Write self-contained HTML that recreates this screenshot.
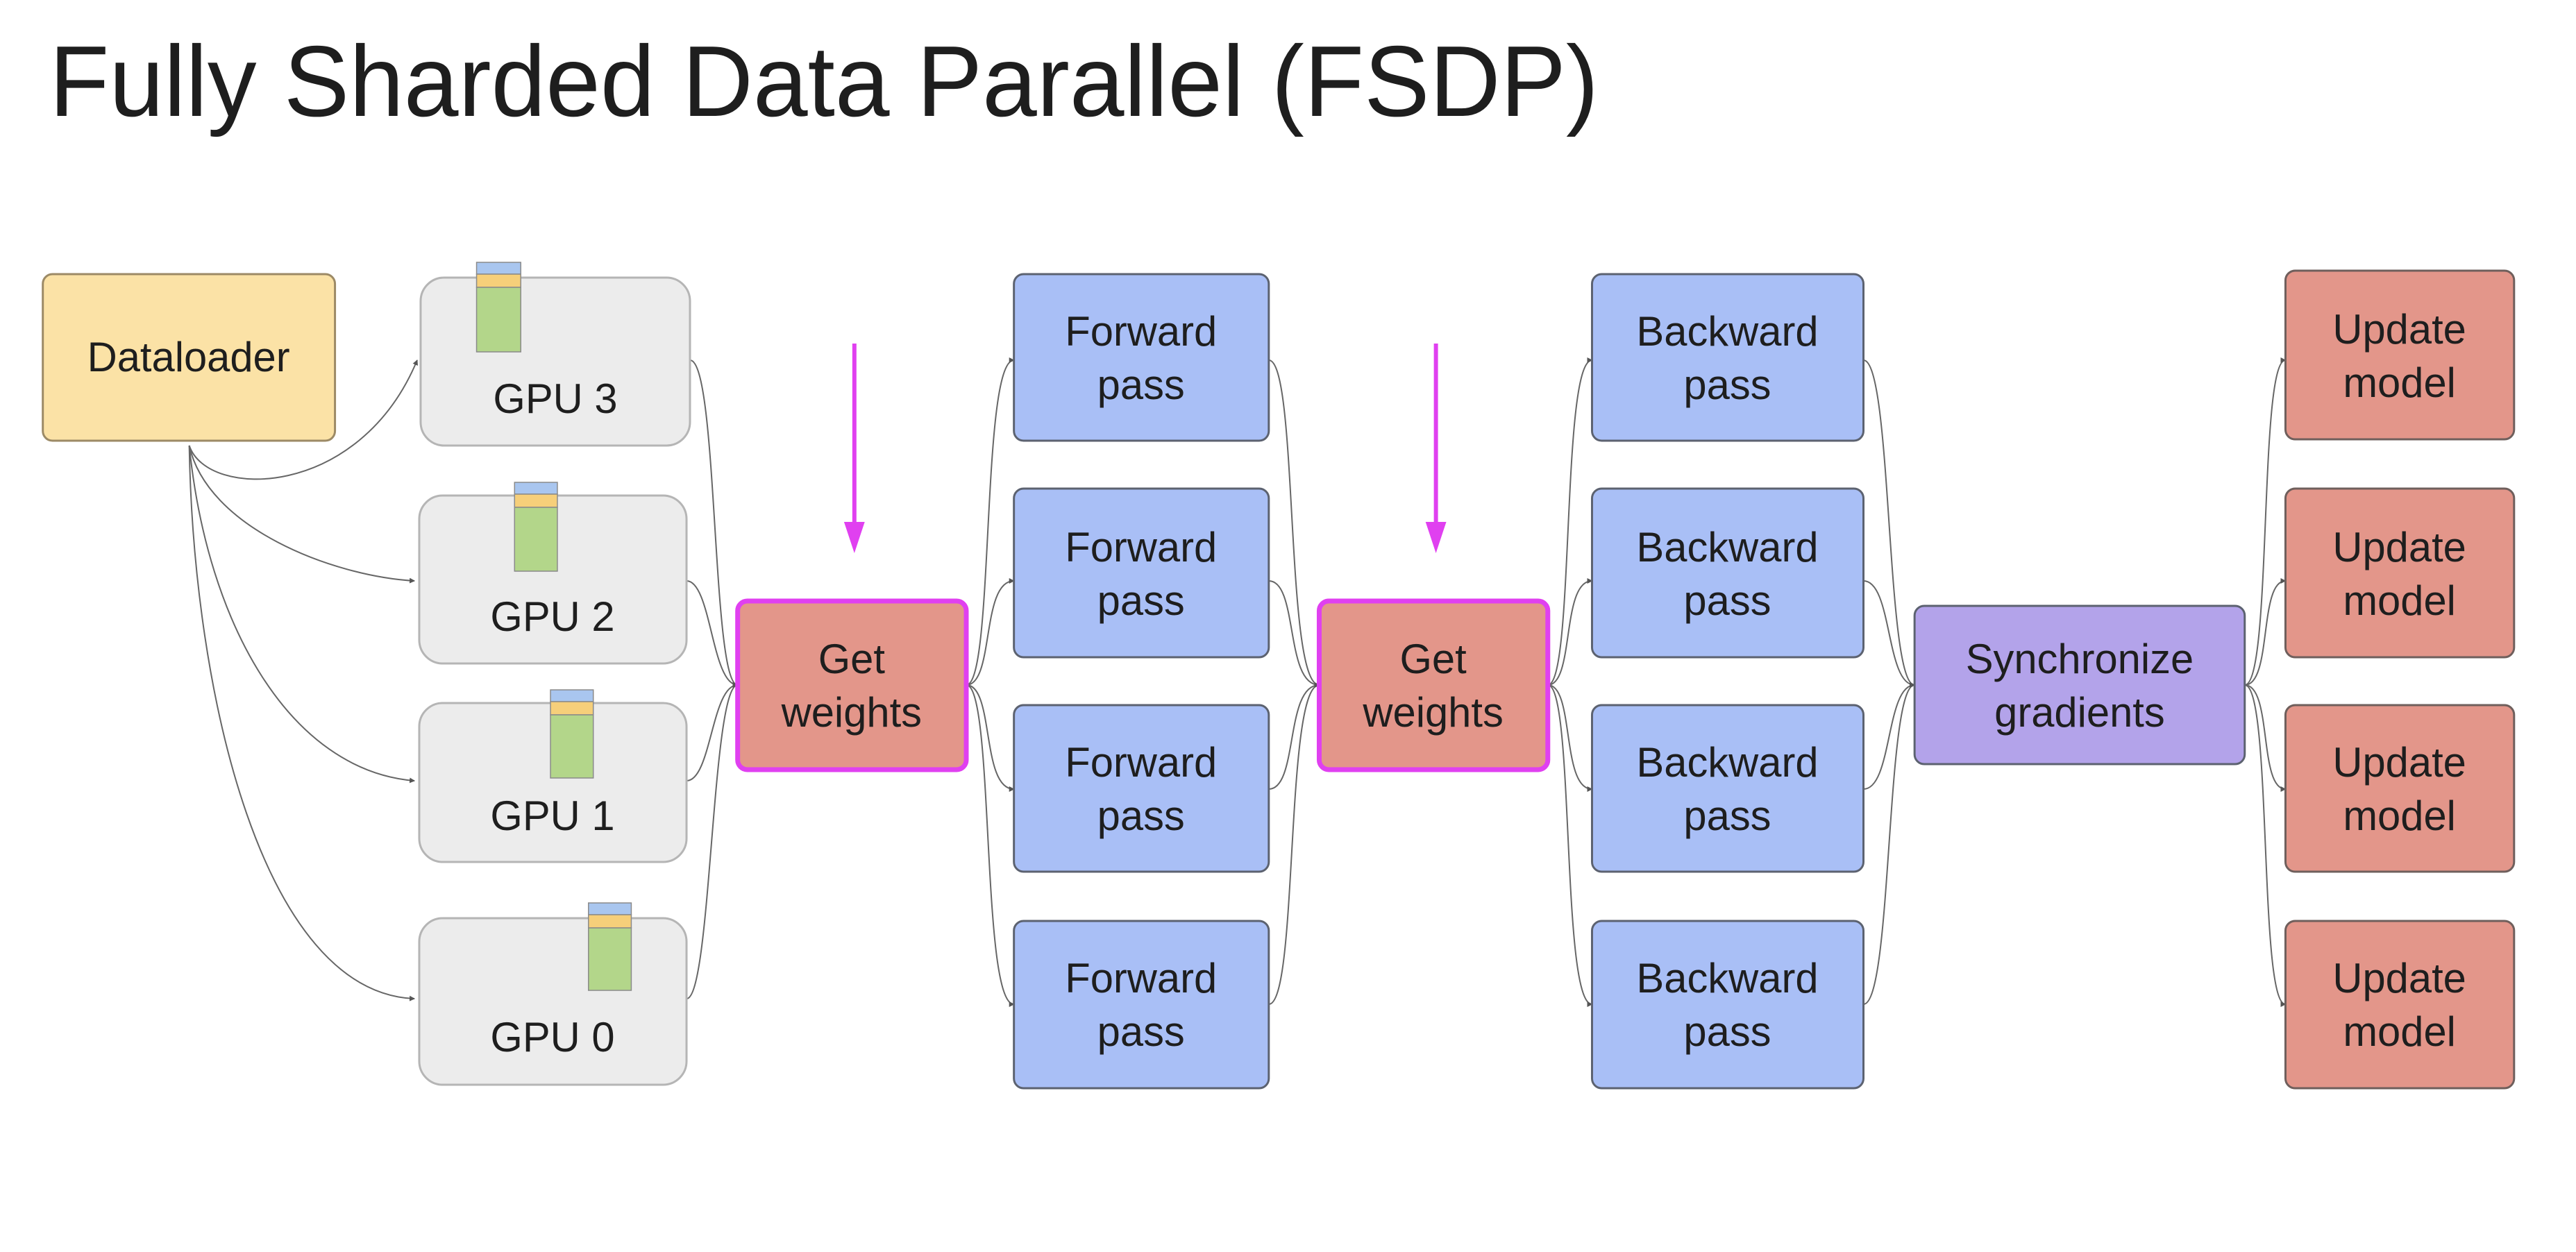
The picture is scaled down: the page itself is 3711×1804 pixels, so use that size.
<!DOCTYPE html>
<html><head><meta charset="utf-8"><style>
html,body{margin:0;padding:0;background:#fff;}
svg{display:block;}
text{font-family:"Liberation Sans",sans-serif;fill:#1e1e1e;}
</style></head><body>
<svg width="3711" height="1804" viewBox="0 0 3711 1804" xmlns="http://www.w3.org/2000/svg">
<defs>
<marker id="a" markerWidth="8" markerHeight="8" refX="7" refY="4" orient="auto" markerUnits="userSpaceOnUse"><path d="M0,0 L8,4 L0,8 z" fill="#555"/></marker>
</defs>
<text x="71" y="167" font-size="145" textLength="2232" lengthAdjust="spacingAndGlyphs">Fully Sharded Data Parallel (FSDP)</text>
<g transform="scale(0.995 1)">
<g fill="none" stroke="#666" stroke-width="2" marker-end="url(#a)">
<path d="M274 642 C300 720 520 720 604 519"/>
<path d="M274 642 C300 760 480 830 600 837"/>
<path d="M274 642 C300 900 420 1110 600 1125"/>
<path d="M274 642 C280 1000 380 1430 600 1439"/>
<path d="M999 519 C1040 519 1030 987 1068 987"/>
<path d="M994 837 C1030 837 1030 987 1068 987"/>
<path d="M994 1125 C1030 1125 1030 987 1068 987"/>
<path d="M994 1439 C1030 1439 1030 987 1068 987"/>
<path d="M1399 987 C1440 987 1420 519 1468 519"/>
<path d="M1399 987 C1440 987 1420 837 1468 837"/>
<path d="M1399 987 C1440 987 1420 1137 1468 1137"/>
<path d="M1399 987 C1440 987 1420 1447 1468 1447"/>
<path d="M1837 519 C1880 519 1860 987 1910 987"/>
<path d="M1837 837 C1880 837 1860 987 1910 987"/>
<path d="M1837 1137 C1880 1137 1860 987 1910 987"/>
<path d="M1837 1447 C1880 1447 1860 987 1910 987"/>
<path d="M2241 987 C2280 987 2260 519 2305 519"/>
<path d="M2241 987 C2280 987 2260 837 2305 837"/>
<path d="M2241 987 C2280 987 2260 1137 2305 1137"/>
<path d="M2241 987 C2280 987 2260 1447 2305 1447"/>
<path d="M2698 519 C2740 519 2730 987 2772 987"/>
<path d="M2698 837 C2740 837 2730 987 2772 987"/>
<path d="M2698 1137 C2740 1137 2730 987 2772 987"/>
<path d="M2698 1447 C2740 1447 2730 987 2772 987"/>
<path d="M3250 987 C3290 987 3270 519 3309 519"/>
<path d="M3250 987 C3290 987 3270 837 3309 837"/>
<path d="M3250 987 C3290 987 3270 1137 3309 1137"/>
<path d="M3250 987 C3290 987 3270 1447 3309 1447"/>
</g>

<g stroke="#e040f0" stroke-width="6" fill="#e040f0">
<line x1="1237" y1="495" x2="1237" y2="760"/>
<path d="M1222 752 L1252 752 L1237 797 z" stroke="none"/>
<line x1="2079" y1="495" x2="2079" y2="760"/>
<path d="M2064 752 L2094 752 L2079 797 z" stroke="none"/>
</g>

<rect x="62" y="395" width="423" height="240" rx="14" fill="#fbe2a6" stroke="#9c8a66" stroke-width="3"/>
<text x="273" y="535" font-size="60" text-anchor="middle">Dataloader</text>

<g fill="#ececec" stroke="#b5b5b5" stroke-width="3">
<rect x="609" y="400" width="390" height="242" rx="34"/>
<rect x="607" y="714" width="387" height="242" rx="34"/>
<rect x="607" y="1013" width="387" height="229" rx="34"/>
<rect x="607" y="1323" width="387" height="240" rx="34"/>
</g>
<g font-size="60" text-anchor="middle">
<text x="804" y="595">GPU 3</text>
<text x="800" y="909">GPU 2</text>
<text x="800" y="1196">GPU 1</text>
<text x="800" y="1515">GPU 0</text>
</g>
<g stroke="#8a8a8a" stroke-width="1.5">
<rect x="690" y="378" width="64" height="17" fill="#a9c6ef"/><rect x="690" y="395" width="64" height="19" fill="#f6cf7a"/><rect x="690" y="414" width="64" height="93" fill="#b3d68a"/>
<rect x="745" y="695" width="62" height="17" fill="#a9c6ef"/><rect x="745" y="712" width="62" height="19" fill="#f6cf7a"/><rect x="745" y="731" width="62" height="92" fill="#b3d68a"/>
<rect x="797" y="994" width="62" height="17" fill="#a9c6ef"/><rect x="797" y="1011" width="62" height="19" fill="#f6cf7a"/><rect x="797" y="1030" width="62" height="91" fill="#b3d68a"/>
<rect x="852" y="1301" width="62" height="17" fill="#a9c6ef"/><rect x="852" y="1318" width="62" height="19" fill="#f6cf7a"/><rect x="852" y="1337" width="62" height="90" fill="#b3d68a"/>
</g>

<g fill="#e3968a" stroke="#e040f0" stroke-width="7">
<rect x="1068" y="866" width="331" height="243" rx="14"/>
<rect x="1910" y="866" width="331" height="243" rx="14"/>
</g>
<g font-size="60" text-anchor="middle">
<text x="1233" y="970">Get</text><text x="1233" y="1047">weights</text>
<text x="2075" y="970">Get</text><text x="2075" y="1047">weights</text>
</g>

<g fill="#a9bff6" stroke="#5c6270" stroke-width="3">
<rect x="1468" y="395" width="369" height="240" rx="14"/>
<rect x="1468" y="704" width="369" height="243" rx="14"/>
<rect x="1468" y="1016" width="369" height="240" rx="14"/>
<rect x="1468" y="1327" width="369" height="241" rx="14"/>
</g>
<g font-size="60" text-anchor="middle">
<text x="1652" y="498">Forward</text><text x="1652" y="575">pass</text>
<text x="1652" y="809">Forward</text><text x="1652" y="886">pass</text>
<text x="1652" y="1119">Forward</text><text x="1652" y="1196">pass</text>
<text x="1652" y="1430">Forward</text><text x="1652" y="1507">pass</text>
</g>

<g fill="#a9bff6" stroke="#5c6270" stroke-width="3">
<rect x="2305" y="395" width="393" height="240" rx="14"/>
<rect x="2305" y="704" width="393" height="243" rx="14"/>
<rect x="2305" y="1016" width="393" height="240" rx="14"/>
<rect x="2305" y="1327" width="393" height="241" rx="14"/>
</g>
<g font-size="60" text-anchor="middle">
<text x="2501" y="498">Backward</text><text x="2501" y="575">pass</text>
<text x="2501" y="809">Backward</text><text x="2501" y="886">pass</text>
<text x="2501" y="1119">Backward</text><text x="2501" y="1196">pass</text>
<text x="2501" y="1430">Backward</text><text x="2501" y="1507">pass</text>
</g>

<rect x="2772" y="873" width="478" height="228" rx="14" fill="#b3a3ea" stroke="#5c6270" stroke-width="3"/>
<text x="3011" y="970" font-size="60" text-anchor="middle">Synchronize</text>
<text x="3011" y="1047" font-size="60" text-anchor="middle">gradients</text>

<g fill="#e3968a" stroke="#6f5f5c" stroke-width="3">
<rect x="3309" y="390" width="331" height="243" rx="14"/>
<rect x="3309" y="704" width="331" height="243" rx="14"/>
<rect x="3309" y="1016" width="331" height="240" rx="14"/>
<rect x="3309" y="1327" width="331" height="241" rx="14"/>
</g>
<g font-size="60" text-anchor="middle">
<text x="3474" y="495">Update</text><text x="3474" y="572">model</text>
<text x="3474" y="809">Update</text><text x="3474" y="886">model</text>
<text x="3474" y="1119">Update</text><text x="3474" y="1196">model</text>
<text x="3474" y="1430">Update</text><text x="3474" y="1507">model</text>
</g>
</g>
</svg>
</body></html>
